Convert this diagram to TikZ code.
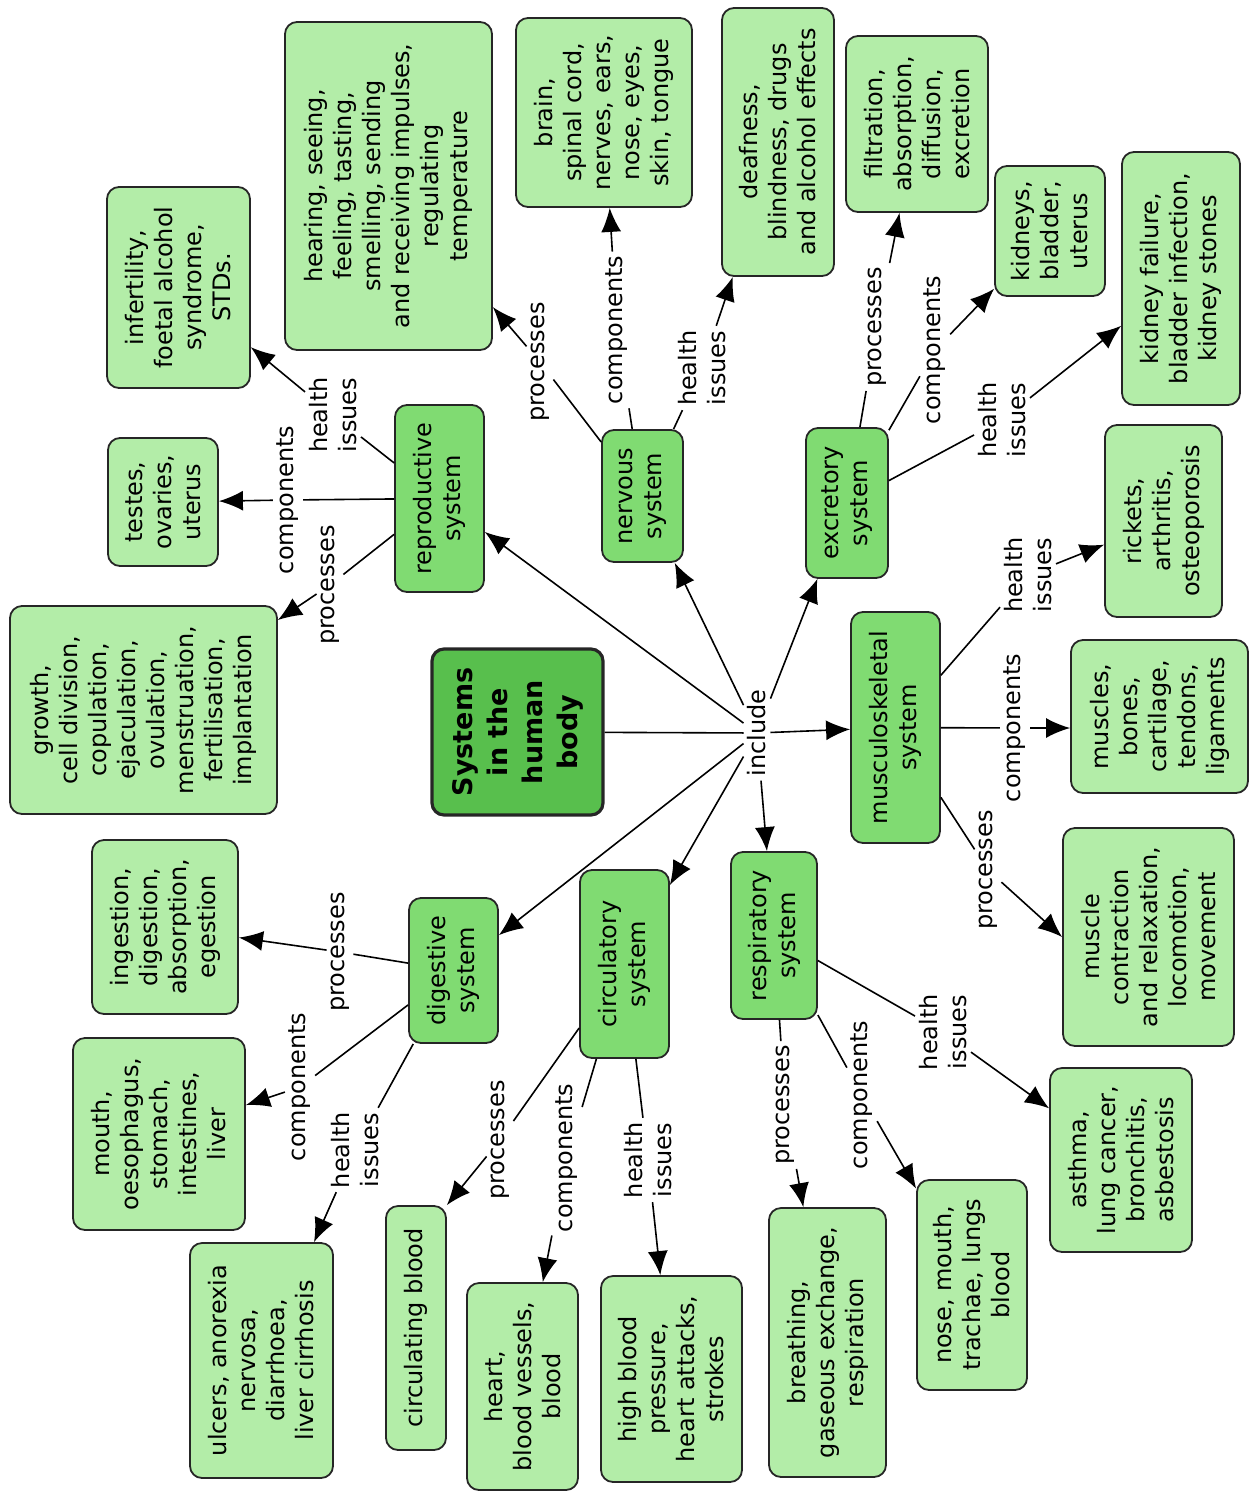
\documentclass[tikz,border=0pt]{standalone}
\usepackage{fontspec}
\setmainfont{DejaVu Sans}
\usetikzlibrary{arrows.meta}
\definecolor{leafgreen}{HTML}{B3EDA8}
\definecolor{sysgreen}{HTML}{80DB72}
\definecolor{maingreen}{HTML}{58BF4D}
\begin{document}
\begin{tikzpicture}[x=1pt,y=-1pt,
  txt/.style={font=\fontsize{24}{29}\selectfont},
  box/.style={txt, draw=black!85, line width=1.8pt, rounded corners=12pt, rotate=90, align=center, inner sep=0pt},
  leaf/.style={box, fill=leafgreen},
  sys/.style={box, fill=sysgreen},
  sz/.style 2 args={minimum width=#2, minimum height=#1},
  lab/.style={txt, rotate=90, align=center, inner sep=4pt},
  con/.style={line width=1.6pt},
  arr/.style={con, -{Latex[length=24pt,width=20pt]}}
]
\useasboundingbox (0,0) rectangle (1251,1492);

% central
\node[box, fill=maingreen, line width=3.2pt, sz={171}{166}, font=\bfseries\fontsize{27}{35}\selectfont] (main) at (517.5,732) {Systems\\in the\\human\\body};

% systems
\node[sys, sz={89}{187}] (repro) at (439.5,498.5) {reproductive\\system};
\node[sys, sz={81}{132}] (nerv) at (642.5,496) {nervous\\system};
\node[sys, sz={82}{150}] (excr) at (847,503) {excretory\\system};
\node[sys, sz={89}{231}] (musc) at (895.5,727.5) {musculoskeletal\\system};
\node[sys, sz={86}{167}] (resp) at (774,935.5) {respiratory\\system};
\node[sys, sz={89}{188}] (circ) at (624.5,964) {circulatory\\system};
\node[sys, sz={89}{145}] (dig) at (453.5,970.5) {digestive\\system};

% leaves
\node[leaf, sz={207}{328}] (hear) at (388.5,186) {hearing, seeing,\\feeling, tasting,\\smelling, sending\\and receiving impulses,\\regulating\\temperature};
\node[leaf, sz={176}{189}] (brain) at (604,112.5) {brain,\\spinal cord,\\nerves, ears,\\nose, eyes,\\skin, tongue};
\node[leaf, sz={112}{268}] (deaf) at (778,142) {deafness,\\blindness, drugs\\and alcohol effects};
\node[leaf, sz={142}{176}] (filt) at (917,124) {filtration,\\absorption,\\diffusion,\\excretion};
\node[leaf, sz={110}{130}] (kid) at (1050,231) {kidneys,\\bladder,\\uterus};
\node[leaf, sz={118}{253}] (kfail) at (1181,278.5) {kidney failure,\\bladder infection,\\kidney stones};
\node[leaf, sz={143}{201}] (infert) at (178.5,287.5) {infertility,\\foetal alcohol\\syndrome,\\STDs.};
\node[leaf, sz={110}{128}] (testes) at (163,502) {testes,\\ovaries,\\uterus};
\node[leaf, sz={267}{208}] (growth) at (143.5,710) {growth,\\cell division,\\copulation,\\ejaculation,\\ovulation,\\menstruation,\\fertilisation,\\implantation};
\node[leaf, sz={117}{192}] (rick) at (1163.5,521) {rickets,\\arthritis,\\osteoporosis};
\node[leaf, sz={177}{153}] (mcomp) at (1159.5,716.5) {muscles,\\bones,\\cartilage,\\tendons,\\ligaments};
\node[leaf, sz={171}{218}] (contr) at (1148.5,937) {muscle\\contraction\\and relaxation,\\locomotion,\\movement};
\node[leaf, sz={146}{174}] (ingest) at (165,927) {ingestion,\\digestion,\\absorption,\\egestion};
\node[leaf, sz={172}{192}] (mouth) at (159,1134) {mouth,\\oesophagus,\\stomach,\\intestines,\\liver};
\node[leaf, sz={143}{235}] (ulcer) at (261.5,1360.5) {ulcers, anorexia\\nervosa,\\diarrhoea,\\liver cirrhosis};
\node[leaf, sz={60}{244}] (cblood) at (416,1328) {circulating blood};
\node[leaf, sz={111}{207}] (heart) at (522.5,1386.5) {heart,\\blood vessels,\\blood};
\node[leaf, sz={141}{206}] (hbp) at (671.5,1379) {high blood\\pressure,\\heart attacks,\\strokes};
\node[leaf, sz={117}{269}] (breath) at (827.5,1342.5) {breathing,\\gaseous exchange,\\respiration};
\node[leaf, sz={110}{210}] (nose) at (972,1285) {nose, mouth,\\trachae, lungs\\blood};
\node[leaf, sz={142}{184}] (asth) at (1121,1160) {asthma,\\lung cancer,\\bronchitis,\\asbestosis};

% linking phrases
\node[lab] (inc) at (757,733) {include};
\node[lab] (rphi) at (333,415) {health\\issues};
\node[lab] (rpco) at (288,500) {components};
\node[lab] (rppr) at (330,585) {processes};
\node[lab] (nvpr) at (540,362) {processes};
\node[lab] (nvco) at (617,330) {components};
\node[lab] (nvhi) at (702,368) {health\\issues};
\node[lab] (expr) at (877,327) {processes};
\node[lab] (exco) at (935,350) {components};
\node[lab] (exhi) at (1002,420) {health\\issues};
\node[lab] (mshi) at (1028,575) {health\\issues};
\node[lab] (msco) at (1015,728) {components};
\node[lab] (mspr) at (988,870) {processes};
\node[lab] (rshi) at (943,1032) {health\\issues};
\node[lab] (rsco) at (862,1095) {components};
\node[lab] (rspr) at (785,1105) {processes};
\node[lab] (cihi) at (648,1160) {health\\issues};
\node[lab] (cico) at (567,1158) {components};
\node[lab] (cipr) at (500,1140) {processes};
\node[lab] (dgpr) at (340,952) {processes};
\node[lab] (dgco) at (300,1087) {components};
\node[lab] (dghi) at (355,1150) {health\\issues};

% central connectors
\draw[con] (main) -- (inc);
\foreach \s in {repro,nerv,excr,musc,resp,circ,dig} \draw[arr] (inc) -- (\s);

% reproductive
\draw[con] (repro) -- (rphi); \draw[arr] (rphi) -- (infert);
\draw[con] (repro) -- (rpco); \draw[arr] (rpco) -- (testes);
\draw[con] (repro) -- (rppr); \draw[arr] (rppr) -- (growth);
% nervous
\draw[con] (nerv) -- (nvpr); \draw[arr] (nvpr) -- (hear);
\draw[con] (nerv) -- (nvco); \draw[arr] (nvco) -- (brain);
\draw[con] (nerv) -- (nvhi); \draw[arr] (nvhi) -- (deaf);
% excretory
\draw[con] (excr) -- (expr); \draw[arr] (expr) -- (filt);
\draw[con] (excr) -- (exco); \draw[arr] (exco) -- (kid);
\draw[con] (excr) -- (exhi); \draw[arr] (exhi) -- (kfail);
% musculoskeletal
\draw[con] (musc) -- (mshi); \draw[arr] (mshi) -- (rick);
\draw[con] (musc) -- (msco); \draw[arr] (msco) -- (msco -| mcomp.north);
\draw[con] (musc) -- (mspr); \draw[arr] (mspr) -- (contr.north);
% respiratory
\draw[con] (resp) -- (rshi); \draw[arr] (rshi) -- (asth);
\draw[con] (resp) -- (rsco); \draw[arr] (rsco) -- (nose);
\draw[con] (resp) -- (rspr); \draw[arr] (rspr) -- (breath);
% circulatory
\draw[con] (circ) -- (cihi); \draw[arr] (cihi) -- (hbp);
\draw[con] (circ) -- (cico); \draw[arr] (cico) -- (heart);
\draw[con] (circ) -- (cipr); \draw[arr] (cipr) -- (cblood.south east);
% digestive
\draw[con] (dig) -- (dgpr); \draw[arr] (dgpr) -- (ingest);
\draw[con] (dig) -- (dgco); \draw[arr] (dgco) -- (mouth);
\draw[con] (dig) -- (dghi); \draw[arr] (dghi) -- (ulcer);
\end{tikzpicture}
\end{document}
